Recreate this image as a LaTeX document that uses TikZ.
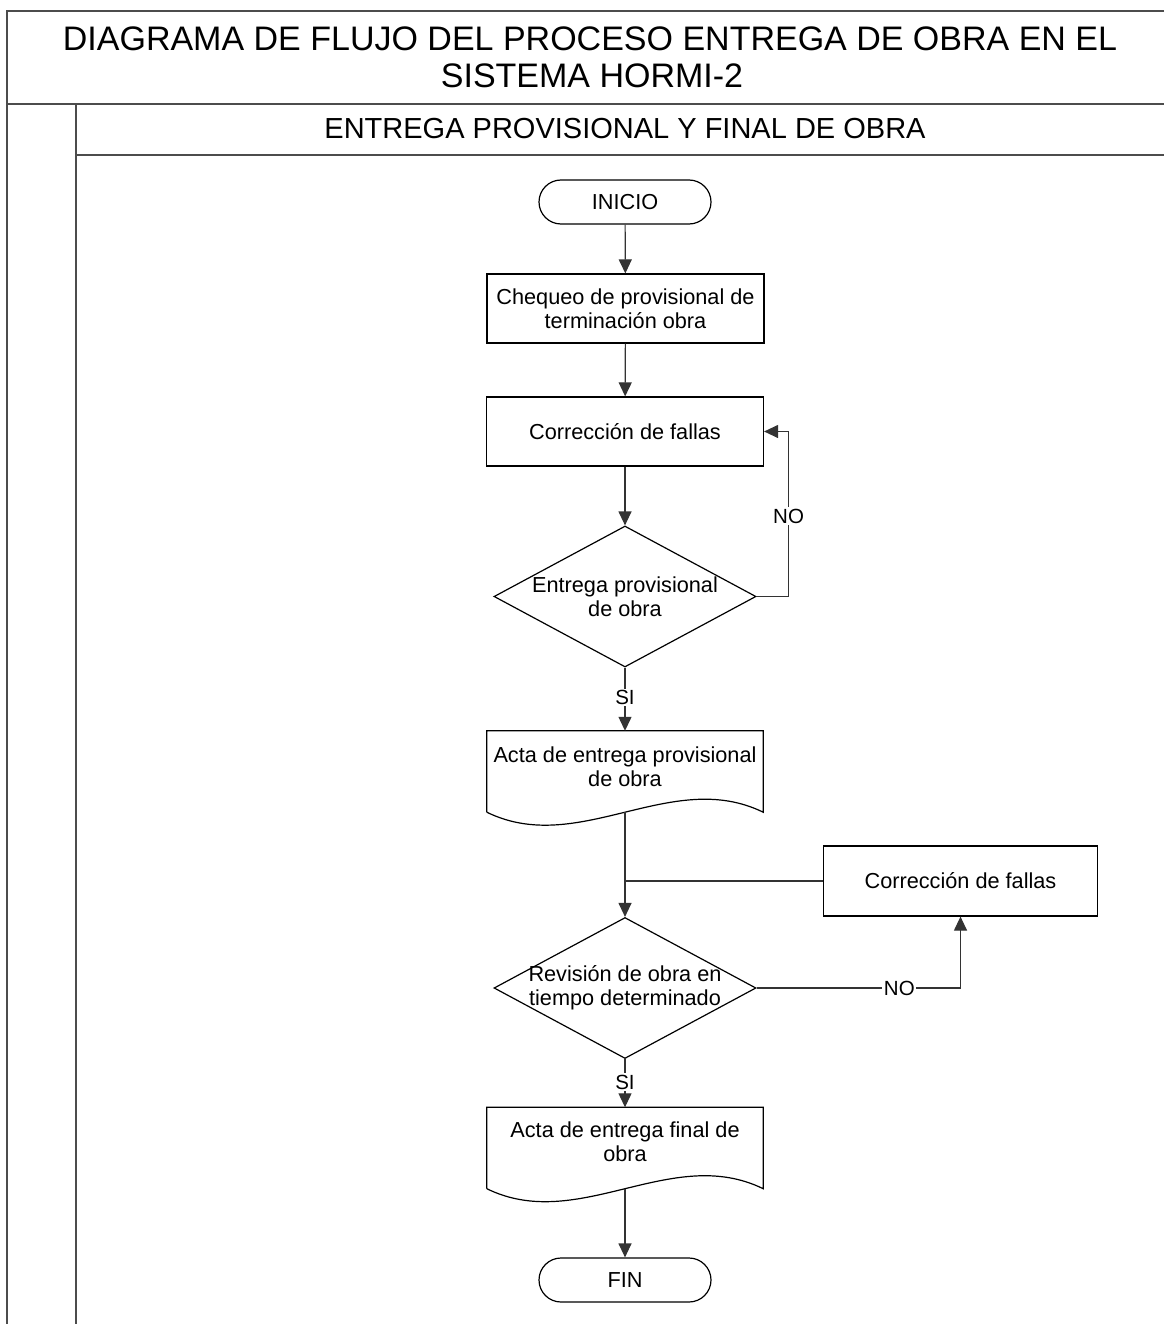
\documentclass[tikz,border=0pt]{standalone}
\usepackage{fontspec}
\setmainfont{Liberation Sans}
\usetikzlibrary{shapes.geometric,arrows.meta,calc}

\begin{document}
\begin{tikzpicture}[x=1pt,y=-1pt,
  every node/.style={font=\fontsize{21.7}{24}\selectfont},
  frame/.style={line width=1.6pt, draw=black!70},
  proc/.style={draw, line width=1.2pt, minimum width=277pt, minimum height=69pt,
    inner sep=0pt, align=center},
  term/.style={draw, line width=1.2pt, rounded corners=22pt, minimum width=172pt,
    minimum height=44pt, inner sep=0pt},
  decision/.style={draw, diamond, aspect=1.86, minimum width=262pt,
    minimum height=141pt, inner sep=0pt, line width=1.2pt},
  docbox/.style={minimum width=276pt, minimum height=81pt, inner sep=0pt},
  docline/.style={line width=1.2pt},
  arr/.style={-{Triangle[length=14pt,width=13pt]}, line width=1.2pt, draw=black!80},
  conn/.style={line width=1.2pt, draw=black!80},
  lbl/.style={fill=white, inner sep=1.5pt, font=\fontsize{20.5}{22}\selectfont}]

\useasboundingbox (0,0) rectangle (1164,1324);

% frame and swimlane
\draw[frame] (1164,11) -- (7,11) -- (7,1324);
\draw[frame] (7,104) -- (1164,104);
\draw[frame] (76,104) -- (76,1324);
\draw[frame] (76,155) -- (1164,155);

\node[anchor=base, font=\fontsize{34}{37}\selectfont] (title1) at (590,50.5)
  {DIAGRAMA DE FLUJO DEL PROCESO ENTREGA DE OBRA EN EL};
\node[anchor=base, font=\fontsize{34}{37}\selectfont] (title2) at (592,88)
  {SISTEMA HORMI-2};
\node[anchor=base, font=\fontsize{29}{32}\selectfont] (lane) at (625,138.5)
  {ENTREGA PROVISIONAL Y FINAL DE OBRA};

% flowchart nodes
\node[term] (inicio) at (625,202) {INICIO};
\node[proc] (chequeo) at (625.5,308.5) {Chequeo de provisional de\\terminación obra};
\node[proc] (corr1) at (625,431.5) {Corrección de fallas};
\node[decision, label={[align=center]center:Entrega provisional\\de obra}] (dec1) at (625,596.5) {};
\node[docbox, label={[align=center,yshift=5pt]center:Acta de entrega provisional\\de obra}] (acta1) at (625,771.5) {};
\node[proc, minimum width=274pt, minimum height=70pt] (corr2) at (960.5,881) {Corrección de fallas};
\node[decision, label={[align=center]center:Revisión de obra en\\tiempo determinado}] (dec2) at (625,988) {};
\node[docbox, label={[align=center,yshift=6pt]center:Acta de entrega final de\\obra}] (acta2) at (625,1148) {};
\node[term] (fin) at (625,1280) {FIN};

% document outlines with wavy bottom
\draw[docline] (acta1.south west) -- (acta1.north west) -- (acta1.north east) -- (acta1.south east)
  .. controls ([shift={(-92,-45)}]acta1.south east) and ([shift={(92,45)}]acta1.south west) .. (acta1.south west);
\draw[docline] (acta2.south west) -- (acta2.north west) -- (acta2.north east) -- (acta2.south east)
  .. controls ([shift={(-92,-45)}]acta2.south east) and ([shift={(92,45)}]acta2.south west) .. (acta2.south west);

% connectors
\coordinate (join) at (acta1.south |- corr2.west);
\draw[arr] (inicio) -- (chequeo);
\draw[arr] (chequeo) -- (corr1);
\draw[arr] (corr1) -- (dec1.north);
\draw[arr] (dec1.east) -- ++(32,0) |- node[lbl, pos=0.244] (no1) {NO} (corr1.east);
\draw[arr] (dec1.south) -- node[lbl, pos=0.47] (si1) {SI} (acta1.north);
\draw[arr] (acta1.south) -- (dec2.north);
\draw[conn] (corr2.west) -- (join);
\draw[arr] (dec2.east) -| node[lbl, pos=0.35] (no2) {NO} (corr2.south);
\draw[arr] (dec2.south) -- node[lbl, pos=0.48] (si2) {SI} (acta2.north);
\draw[arr] (acta2.south) -- (fin);
\end{tikzpicture}
\end{document}
